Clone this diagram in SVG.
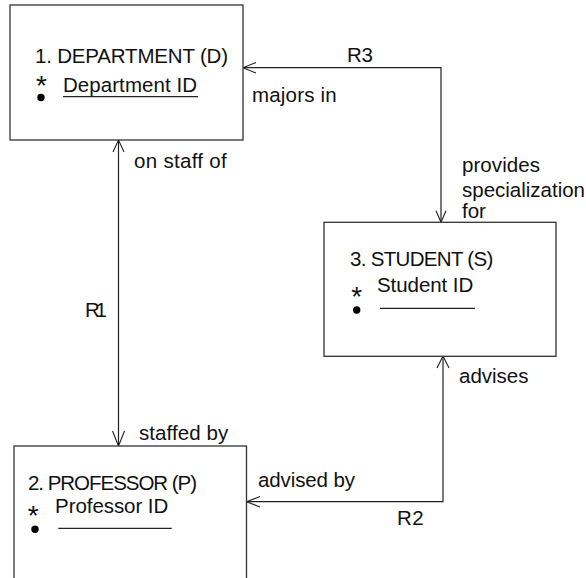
<svg xmlns="http://www.w3.org/2000/svg" width="586" height="578" viewBox="0 0 586 578">
  <defs>
    <style>
      .box { fill: #ffffff; stroke: #333333; stroke-width: 1.3; }
      .line { fill: none; stroke: #222222; stroke-width: 1.2; }
      .head { fill: none; stroke: #222222; stroke-width: 1.1; }
      .uline { stroke: #222222; stroke-width: 1.2; }
      text { font-family: "Liberation Sans", Arial, sans-serif; font-size: 20.5px; fill: #111111; }
      .star { font-size: 28px; text-anchor: middle; }
      .dot { fill: #000000; }
    </style>
  </defs>
  <rect width="586" height="578" fill="#ffffff"/>

  <!-- relationship lines -->
  <g id="connectors">
    <!-- R1: department / professor -->
    <line class="line" x1="118.5" y1="140" x2="118.5" y2="446"/>
    <polyline class="head" points="113,152 118.5,140 124,152"/>
    <polyline class="head" points="112.5,431 118.5,446 124.5,431"/>
    <!-- R3: department / student -->
    <polyline class="line" points="243,67.7 441,67.7 441,222.3"/>
    <polyline class="head" points="256,62.5 243,67.7 256,73"/>
    <polyline class="head" points="436,210.7 441,222.3 446,210.7"/>
    <!-- R2: professor / student -->
    <polyline class="line" points="246.5,501.7 443,501.7 443,356"/>
    <polyline class="head" points="260,496.5 246.5,501.7 260,507"/>
    <polyline class="head" points="437,368 443,356 449,368"/>

    <text x="347" y="61.7" textLength="26">R3</text>
    <text x="252" y="101.7" textLength="84.7">majors in</text>
    <text x="462" y="171.7" textLength="78">provides</text>
    <text x="462" y="196.7" textLength="123">specialization</text>
    <text x="462" y="218">for</text>
    <text x="134" y="168.3" textLength="92.7">on staff of</text>
    <text x="85" y="316.7" textLength="22">R1</text>
    <text x="139" y="440" textLength="89.3">staffed by</text>
    <text x="459" y="383">advises</text>
    <text x="258" y="487" textLength="97">advised by</text>
    <text x="397" y="525" textLength="26.7">R2</text>
  </g>

  <!-- entity 1 -->
  <g id="department">
    <rect class="box" x="10" y="5" width="233" height="135"/>
    <text x="35" y="63" textLength="193">1. DEPARTMENT (D)</text>
    <text class="star" x="41.5" y="95">*</text>
    <text x="63" y="92" textLength="134">Department ID</text>
    <circle class="dot" cx="41" cy="97.5" r="3.7"/>
    <line class="uline" x1="63" y1="96.7" x2="198" y2="96.7"/>
  </g>

  <!-- entity 3 -->
  <g id="student">
    <rect class="box" x="324" y="222.3" width="232" height="134"/>
    <text x="350" y="266" textLength="143.3">3. STUDENT (S)</text>
    <text class="star" x="356.7" y="306">*</text>
    <text x="377" y="291.7" textLength="96.3">Student ID</text>
    <circle class="dot" cx="356.7" cy="310" r="3.7"/>
    <line class="uline" x1="380" y1="308.3" x2="475" y2="308.3"/>
  </g>

  <!-- entity 2 -->
  <g id="professor">
    <rect class="box" x="14" y="446" width="232.5" height="150"/>
    <text x="28" y="490" textLength="169">2. PROFESSOR (P)</text>
    <text class="star" x="33.3" y="525">*</text>
    <text x="55" y="513" textLength="113.3">Professor ID</text>
    <circle class="dot" cx="35" cy="529.3" r="3.7"/>
    <line class="uline" x1="58.3" y1="528.3" x2="171.7" y2="528.3"/>
  </g>
</svg>
